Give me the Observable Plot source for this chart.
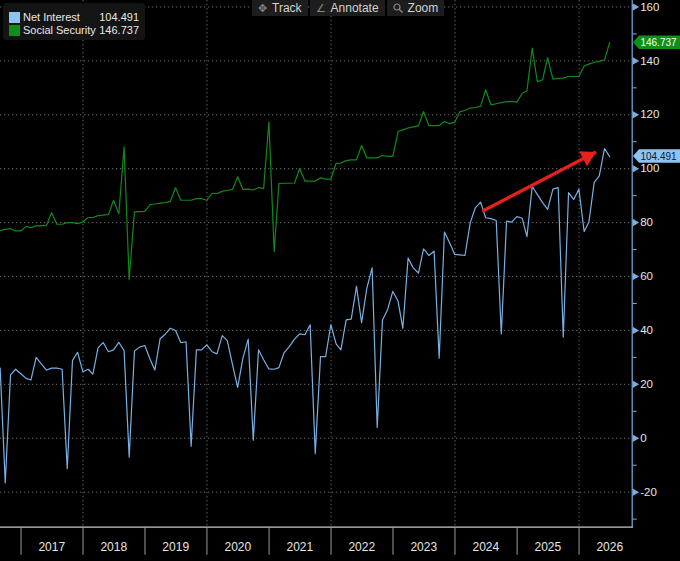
<!DOCTYPE html>
<html><head><meta charset="utf-8">
<script src="https://cdn.jsdelivr.net/npm/d3@7"></script>
<script src="https://cdn.jsdelivr.net/npm/@observablehq/plot@0.6"></script>
<style>
html,body{margin:0;padding:0;background:#000;}
#wrap{position:relative;width:680px;height:561px;overflow:hidden;background:#000;
  font-family:"Liberation Sans",Arial,sans-serif;}
#chart svg{display:block;}
#legend{position:absolute;left:3px;top:3px;width:142px;height:37px;background:#141414;border-radius:3px;
  color:#e8e8e8;font-size:11px;}
#legend .row{position:absolute;left:6px;right:6px;height:13px;line-height:13px;}
#legend .sw{position:absolute;left:0;top:1px;width:11px;height:11px;}
#legend .nm{position:absolute;left:14px;top:0;}
#legend .vl{position:absolute;right:0;top:0;}
#toolbar{position:absolute;top:0;left:252px;height:16px;display:flex;gap:2px;}
#toolbar .b{background:#1d1d1d;color:#d2d2d2;font-size:12px;line-height:16px;height:16px;padding:0 6px;display:flex;align-items:center;gap:5px;}
#toolbar .ic{color:#8a8a8a;font-size:11px;}
</style></head><body>
<div id="wrap">
  <div id="chart"></div>
  <div id="legend"></div>
  <div id="toolbar">
    <div class="b"><span class="ic">✥</span>Track</div>
    <div class="b"><span class="ic">∠</span>Annotate</div>
    <div class="b"><svg width="10" height="10" viewBox="0 0 10 10"><circle cx="4" cy="4" r="3" fill="none" stroke="#8a8a8a" stroke-width="1.2"/><line x1="6.2" y1="6.2" x2="9.5" y2="9.5" stroke="#8a8a8a" stroke-width="1.4"/></svg>Zoom</div>
  </div>
</div>
<script>
// ---- data (monthly, month-end) ----
const firstMonth = "2016-08-01";
const lastMonth = "2026-06-01";
const seriesNames = ["Net Interest", "Social Security"];
const seriesColors = ["#78b0e3", "#0f8a19"];
const tagFills = ["#8ec4f3", "#0f8f19"];
const tagTextColors = ["#0a1a2e", "#ffffff"];

const netInterest = [
  26.0,
  -16.6, 23.5, 25.6, 23.9, 22.2, 21.6, 30.0, 27.6, 25.3, 26.0, 26.0, 25.6,
  -11.3, 28.8, 31.9, 24.7, 25.6, 23.8, 33.6, 35.5, 32.1, 32.8, 35.6, 32.5,
  -7.0, 32.4, 33.8, 34.4, 29.3, 25.3, 36.9, 38.6, 40.8, 40.0, 35.5, 35.8,
  -3.0, 32.8, 32.8, 34.6, 32.1, 31.3, 38.1, 36.2, 27.2, 18.9, 29.7, 36.8,
  -0.7, 32.8, 29.1, 25.7, 25.6, 26.2, 31.8, 34.0, 36.8, 38.7, 38.4, 42.1,
  -5.7, 30.3, 30.3, 42.1, 35.0, 32.8, 43.9, 44.2, 56.4, 42.9, 55.7, 63.2,
  4.0, 43.9, 47.7, 54.5, 50.8, 40.8, 66.9, 63.2, 61.3, 70.3, 67.8, 69.4,
  29.7, 76.5, 72.5, 68.2, 68.0, 67.8, 80.0, 85.5, 87.6, 81.8, 81.5, 80.8,
  38.7, 80.6, 80.2, 82.2, 81.6, 74.8, 93.4, 90.5, 87.4, 84.9, 92.4, 93.0,
  37.5, 91.1, 88.6, 92.4, 76.7, 80.2, 94.9, 97.3, 107.5, 104.491
];
const socialSecurity = [
  77.0,
  77.5, 77.8, 76.9, 76.9, 78.6, 78.1, 78.8, 78.9, 79.0, 83.7, 79.4, 79.4,
  80.0, 80.0, 79.6, 80.2, 81.9, 81.9, 82.6, 82.8, 83.0, 88.3, 83.3, 108.1,
  58.8, 84.0, 84.1, 84.2, 86.7, 86.9, 87.2, 87.4, 87.9, 92.9, 88.3, 88.3,
  88.3, 88.9, 88.9, 88.3, 90.8, 90.8, 91.6, 92.0, 92.3, 97.0, 92.3, 92.4,
  92.1, 93.0, 92.6, 117.4, 69.3, 94.5, 94.6, 94.6, 94.7, 100.1, 95.4, 95.4,
  95.4, 96.6, 96.1, 96.1, 102.0, 102.1, 103.0, 103.3, 103.3, 108.6, 104.0, 104.0,
  104.0, 104.9, 104.6, 104.6, 113.8, 114.4, 115.1, 115.5, 115.9, 121.2, 116.0, 116.0,
  116.0, 117.5, 116.7, 117.3, 121.2, 121.6, 122.5, 122.7, 123.1, 129.3, 123.7, 124.1,
  124.5, 124.9, 124.9, 124.7, 128.0, 128.9, 144.7, 132.3, 133.0, 141.2, 133.2, 133.5,
  133.6, 134.2, 134.2, 134.2, 138.1, 138.8, 139.5, 139.8, 140.4, 146.737
];
const yTicks = [-20, 0, 20, 40, 60, 80, 100, 120, 140, 160];
const yMinorTicks = [-30, -10, 10, 30, 50, 70, 90, 110, 130, 150];
const yearLabels = [2017, 2018, 2019, 2020, 2021, 2022, 2023, 2024, 2025, 2026];
const gridYears = [2018, 2020, 2022, 2024, 2026];
const arrowStart = {date: "2024-06-10", value: 84.2};
const arrowEnd = {date: "2026-04-11", value: 106.2};

// ---- build table ----
const months = d3.utcMonth.range(new Date(firstMonth), d3.utcMonth.offset(new Date(lastMonth), 1));
const monthEnd = m => d3.utcDay.offset(d3.utcMonth.offset(m, 1), -1);
const rows = [];
const allSeries = [netInterest, socialSecurity];
seriesNames.forEach((name, si) => {
  months.forEach((m, i) => rows.push({series: name, date: monthEnd(m), value: allSeries[si][i]}));
});
const yearStart = y => new Date(Date.UTC(y, 0, 1));
const yearMid = y => new Date(Date.UTC(y, 6, 1));
const red = "#e8201c";
const axisBlue = "#79addf";
const font = '"Liberation Sans",Arial,sans-serif';

const plot = Plot.plot({
  width: 680, height: 561,
  marginLeft: 0, marginRight: 48.3, marginTop: 0, marginBottom: 34.3,
  style: {background: "#000", color: "#e0e0e0", fontFamily: font, fontSize: "12px", overflow: "visible"},
  x: {type: "utc", domain: [new Date("2016-09-02"), new Date("2026-11-10")], axis: null},
  y: {domain: [-33, 162.4], axis: null},
  color: {domain: seriesNames, range: seriesColors},
  marks: [
    Plot.ruleY(yTicks, {stroke: "#6a6a6a", strokeWidth: 1, strokeDasharray: "1.3,2.7"}),
    Plot.ruleX(gridYears.map(yearStart), {stroke: "#6a6a6a", strokeWidth: 1, strokeDasharray: "1.3,2.7"}),
    Plot.line(rows, {x: "date", y: "value", z: "series", stroke: "series", strokeWidth: 1.2, clip: true}),
    Plot.link([{a: arrowStart, b: arrowEnd}], {
      x1: d => new Date(d.a.date), y1: d => d.a.value,
      x2: d => new Date(d.b.date), y2: d => d.b.value,
      stroke: red, strokeWidth: 3.4
    }),
    Plot.dot([arrowEnd], {x: d => new Date(d.date), y: "value", symbol: "triangle", r: 6.3,
      fill: red, stroke: null, rotate: 62.5, dx: -8.6, dy: 4.5}),
    Plot.frame({anchor: "bottom", stroke: "#c8c8c8", strokeWidth: 1.2}),
    Plot.frame({anchor: "right", stroke: axisBlue, strokeWidth: 1.2}),
    Plot.axisX(yearLabels.map(yearStart), {anchor: "bottom", tickSize: 28, tickFormat: () => "", stroke: "#9a9a9a", label: null}),
    Plot.axisX(yearLabels.map(yearMid), {anchor: "bottom", tickSize: 0, tickPadding: 15,
      tickFormat: d3.utcFormat("%Y"), fill: "#e6e6e6", fontSize: 12, label: null}),
    Plot.axisY(yMinorTicks, {anchor: "right", tickSize: 4, tickFormat: () => "", stroke: axisBlue, label: null}),
    Plot.dot(yTicks, {y: d => d, frameAnchor: "right", symbol: "triangle", rotate: 90, r: 2.8,
      fill: axisBlue, stroke: null, dx: 2.6}),
    Plot.axisY(yTicks, {anchor: "right", tickSize: 0, tickPadding: 8, tickFormat: d => String(d),
      fill: "#e6e6e6", fontSize: 11.5, label: null})
  ]
});
document.getElementById("chart").appendChild(plot);

// ---- last-value tags on the right axis ----
const ys = plot.scale("y");
const svg = d3.select(plot);
allSeries.forEach((vals, si) => {
  const v = vals[vals.length - 1];
  const y = ys.apply(v);
  const x0 = 633, x1 = 681, h = 13.5;
  svg.append("path")
    .attr("d", `M${x0},${y} L${x0 + 6},${y - h / 2} H${x1} V${y + h / 2} H${x0 + 6} Z`)
    .attr("fill", tagFills[si]);
  svg.append("text").attr("x", 640.5).attr("y", y).attr("dy", "0.36em")
    .attr("text-anchor", "start")
    .attr("textLength", 36).attr("lengthAdjust", "spacingAndGlyphs")
    .attr("fill", tagTextColors[si]).attr("font-size", 10.8).attr("font-family", font)
    .text(v.toFixed(3));
});

// ---- legend ----
const legend = document.getElementById("legend");
seriesNames.forEach((name, si) => {
  const vals = allSeries[si];
  const row = document.createElement("div");
  row.className = "row";
  row.style.top = (8 + si * 13) + "px";
  row.innerHTML = `<span class="sw" style="background:${si === 0 ? "#8ec4f3" : "#0f8f19"}"></span>` +
    `<span class="nm">${name}</span><span class="vl">${vals[vals.length - 1].toFixed(3)}</span>`;
  legend.appendChild(row);
});
</script>
</body></html>
